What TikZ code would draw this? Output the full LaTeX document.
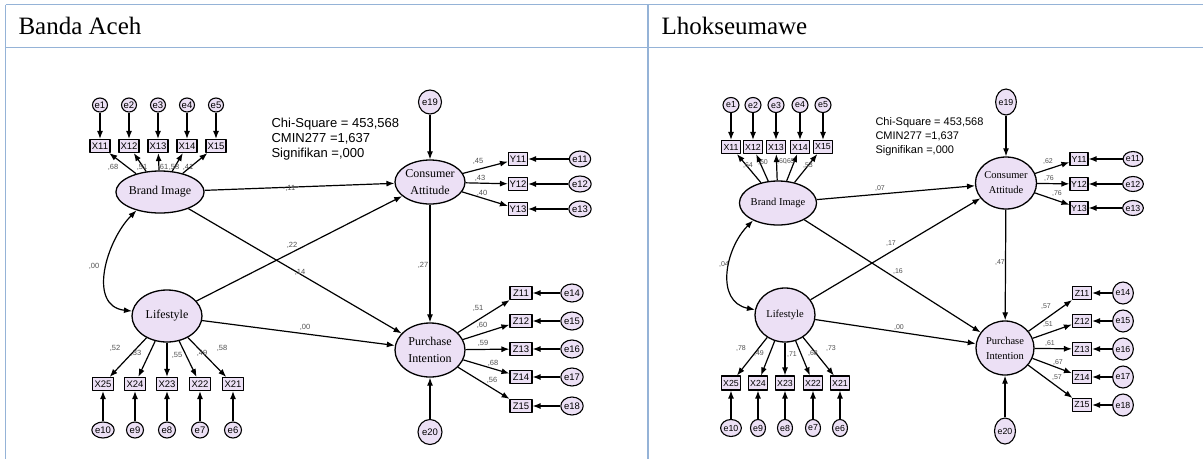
\documentclass[tikz,border=0pt]{standalone}
\usepackage{fontspec}
\setmainfont{Liberation Serif}
\setsansfont{Liberation Sans}
\usetikzlibrary{shapes.geometric,arrows.meta}
\definecolor{rim}{RGB}{149,179,215}
\definecolor{lav}{RGB}{236,224,245}
\definecolor{wt}{RGB}{80,80,80}

\begin{document}
\begin{tikzpicture}[x=1pt,y=-1pt,line join=round,
  lat/.style={ellipse,draw,line width=1.3pt,fill=lav,inner sep=0pt,align=center},
  obs/.style={rectangle,draw,line width=1.1pt,fill=lav,inner sep=0pt,minimum height=13pt},
  err/.style={ellipse,draw,line width=1.1pt,fill=lav,inner sep=0pt},
  wgt/.style={text=wt,inner sep=0pt,font=\sffamily\fontsize{7.5}{7.5}\selectfont},
  arr/.style={-{Latex[length=8pt,width=6pt]},line width=1.2pt},
  both/.style={{Latex[length=8pt,width=6pt]}-{Latex[length=8pt,width=6pt]},line width=1.2pt}]
  \useasboundingbox (0,0) rectangle (1203,459);
  \draw[rim,line width=1.7pt] (5.5,4.5) -- (1203,4.5);
  \draw[rim,line width=1.7pt] (5.5,47.5) -- (1203,47.5);
  \draw[rim,line width=1.7pt] (5.5,4.5) -- (5.5,459);
  \draw[rim,line width=1.7pt] (648,4.5) -- (648,459);
  \node[anchor=west,font=\fontsize{25}{25}\selectfont] (h1) at (15,26) {Banda Aceh};
  \node[anchor=west,font=\fontsize{25}{25}\selectfont] (h2) at (658,26) {Lhokseumawe};

  % Banda Aceh
  \begin{scope}[every node/.append style={font=\sffamily\fontsize{9.5}{9.5}\selectfont}]
  \node[lat,minimum width=74pt,minimum height=42pt,font=\fontsize{12}{17}\selectfont] (abi) at (160,192) {Brand Image};
  \node[lat,minimum width=70pt,minimum height=52pt,font=\fontsize{12}{17}\selectfont] (als) at (167,316) {Lifestyle};
  \node[lat,minimum width=70pt,minimum height=44pt,font=\fontsize{12}{17}\selectfont] (aca) at (430,182) {Consumer\\Attitude};
  \node[lat,minimum width=70pt,minimum height=54pt,font=\fontsize{12}{17}\selectfont] (api) at (430,350) {Purchase\\Intention};
  \node[err,minimum width=23pt,minimum height=24pt] (ae19) at (430,102) {e19};
  \node[err,minimum width=24pt,minimum height=25pt] (ae20) at (430,432) {e20};
  \node[font=\sffamily\fontsize{13}{15}\selectfont,align=left,anchor=west] (achi) at (268,139)
    {Chi-Square = 453,568\\CMIN277 =1,637\\Signifikan =,000};
  \foreach \i/\x in {1/100,2/129,3/158,4/187,5/216} {
    \node[err,minimum width=15pt,minimum height=14pt] (ae\i) at (\x,105) {e\i};
    \node[obs,minimum width=20pt] (ax1\i) at (\x,146) {X1\i};
    \draw[arr] (ae\i) -- (ax1\i);
    \draw[arr] (abi) -- (ax1\i);
  }
  \foreach \j/\k/\x in {5/10/103,4/9/135,3/8/167,2/7/200,1/6/233} {
    \node[obs,minimum width=21pt] (ax2\j) at (\x,384) {X2\j};
    \node[err,minimum width=17pt,minimum height=16pt] (ae\k) at (\x,430) {e\k};
    \draw[arr] (ae\k) -- (ax2\j);
    \draw[arr] (als) -- (ax2\j);
  }
  \foreach \j/\k/\y in {1/11/159,2/12/184,3/13/209} {
    \node[obs,minimum width=19pt] (ay\j) at (518,\y) {Y1\j};
    \node[err,minimum width=20pt,minimum height=16pt] (ae\k) at (580,\y) {e\k};
    \draw[arr] (ae\k) -- (ay\j);
    \draw[arr] (aca) -- (ay\j);
  }
  \foreach \j/\k/\y in {1/14/293,2/15/321,3/16/349,4/17/377,5/18/406} {
    \node[obs,minimum width=22pt] (az\j) at (521,\y) {Z1\j};
    \node[err,minimum width=20pt,minimum height=18pt] (ae\k) at (572,\y) {e\k};
    \draw[arr] (ae\k) -- (az\j);
    \draw[arr] (api) -- (az\j);
  }
  \draw[arr] (ae19) -- (aca);
  \draw[arr] (ae20) -- (api);
  \draw[arr] (abi) -- (aca);
  \draw[arr] (abi) -- (api);
  \draw[arr] (als) -- (aca);
  \draw[arr] (als) -- (api);
  \draw[arr] (aca) -- (api);
  \draw[both] (abi.218) .. controls +(-30,30) and +(-45,-5) .. (als.172);
  \foreach \i/\x/\y/\t in {1/113/167/{,68},2/142/167/{,51},3/163/167/{,61},4/174/167/{,58},5/188/167/{,41},
      6/115/348/{,52},7/136/353/{,33},8/177/355/{,55},9/202/353/{,49},10/222/348/{,58},
      11/478/161/{,45},12/480/178/{,43},13/482/193/{,40},
      14/478/308/{,51},15/482/325/{,60},16/483/343/{,59},17/493/363/{,68},18/492/380/{,56},
      19/289/188/{-,11},20/292/245/{,22},21/300/272/{,14},22/305/327/{,00},23/423/265/{,27},24/94/266/{,00}}
    \node[wgt] (aw\i) at (\x,\y) {\t};
  \end{scope}

  % Lhokseumawe
  \begin{scope}[every node/.append style={font=\sffamily\fontsize{8.8}{8.8}\selectfont}]
  \node[lat,minimum width=60pt,minimum height=44pt,font=\fontsize{10.5}{15}\selectfont] (bbi) at (778,203) {Brand Image};
  \node[lat,minimum width=60pt,minimum height=54pt,font=\fontsize{10.5}{15}\selectfont] (bls) at (785,315) {Lifestyle};
  \node[lat,minimum width=58pt,minimum height=52pt,font=\fontsize{10.5}{15}\selectfont] (bca) at (1006,183) {Consumer\\Attitude};
  \node[lat,minimum width=58pt,minimum height=54pt,font=\fontsize{10.5}{15}\selectfont] (bpi) at (1005,348) {Purchase\\Intention};
  \node[err,minimum width=18pt,minimum height=26pt] (be19) at (1006,102) {e19};
  \node[err,minimum width=21pt,minimum height=26pt] (be20) at (1005,431) {e20};
  \node[font=\sffamily\fontsize{11}{14}\selectfont,align=left,anchor=west] (bchi) at (872,137)
    {Chi-Square = 453,568\\CMIN277 =1,637\\Signifikan =,000};
  \foreach \i/\x in {1/731,2/753,3/776,4/800,5/823} {
    \node[err,minimum width=16pt,minimum height=15pt] (be\i) at (\x,105) {e\i};
    \node[obs,minimum width=19pt] (bx1\i) at (\x,147) {X1\i};
    \draw[arr] (be\i) -- (bx1\i);
    \draw[arr] (bbi) -- (bx1\i);
  }
  \foreach \j/\k/\x in {5/10/731,4/9/758,3/8/785,2/7/813,1/6/840} {
    \node[obs,minimum width=19pt,minimum height=14pt] (bx2\j) at (\x,383) {X2\j};
    \node[err,minimum width=15pt,minimum height=17pt] (be\k) at (\x,428) {e\k};
    \draw[arr] (be\k) -- (bx2\j);
    \draw[arr] (bls) -- (bx2\j);
  }
  \foreach \j/\k/\y in {1/11/159,2/12/184,3/13/208} {
    \node[obs,minimum width=18pt] (by\j) at (1079,\y) {Y1\j};
    \node[err,minimum width=18pt,minimum height=15pt] (be\k) at (1133,\y) {e\k};
    \draw[arr] (be\k) -- (by\j);
    \draw[arr] (bca) -- (by\j);
  }
  \foreach \j/\k/\y in {1/14/293,2/15/321,3/16/349,4/17/377,5/18/405} {
    \node[obs,minimum width=19pt] (bz\j) at (1082,\y) {Z1\j};
    \node[err,minimum width=17pt,minimum height=22pt] (be\k) at (1123,\y) {e\k};
    \draw[arr] (be\k) -- (bz\j);
    \draw[arr] (bpi) -- (bz\j);
  }
  \draw[arr] (be19) -- (bca);
  \draw[arr] (be20) -- (bpi);
  \draw[arr] (bbi) -- (bca);
  \draw[arr] (bbi) -- (bpi);
  \draw[arr] (bls) -- (bca);
  \draw[arr] (bls) -- (bpi);
  \draw[arr] (bca) -- (bpi);
  \draw[both] (bbi.215) .. controls +(-28,28) and +(-40,-8) .. (bls.170);
  \foreach \i/\x/\y/\t in {1/748/165/{,64},2/763/162/{,60},3/782/161/{,60},4/790/161/{,65},5/808/165/{,53},
      6/741/348/{,78},7/759/353/{,49},8/792/355/{,71},9/813/353/{,68},10/831/348/{,73},
      11/1048/161/{,62},12/1049/178/{,76},13/1057/193/{,76},
      14/1046/307/{,57},15/1048/325/{,51},16/1050/343/{,61},17/1058/362/{,67},18/1057/378/{,57},
      19/880/188/{,07},20/891/244/{,17},21/898/271/{,16},22/899/327/{,00},23/1000/263/{,47},24/724/264/{,04}}
    \node[wgt,font=\sffamily\fontsize{7}{7}\selectfont] (bw\i) at (\x,\y) {\t};
  \end{scope}
\end{tikzpicture}
\end{document}
